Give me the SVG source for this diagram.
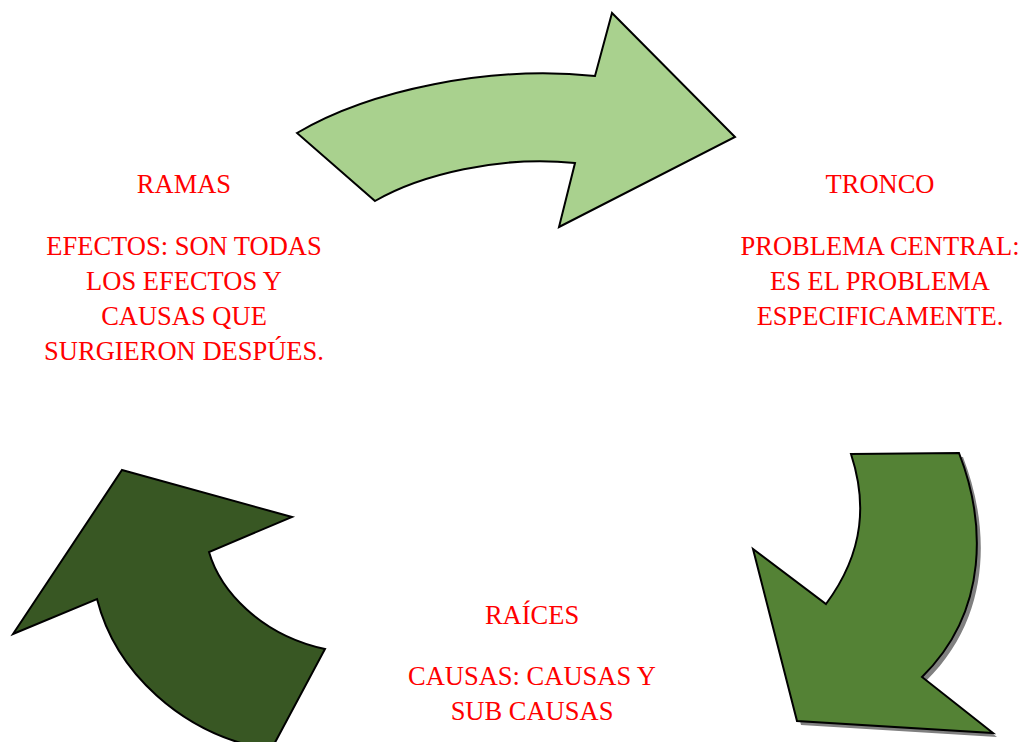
<svg xmlns="http://www.w3.org/2000/svg" width="1024" height="742" viewBox="0 0 1024 742">
<style>
.arrow{stroke:#000;stroke-width:2;stroke-linejoin:miter}
.lbl{font-family:"Liberation Serif","Times New Roman",serif;font-size:26.5px;fill:#FF0000;text-anchor:middle}
</style>
<rect width="1024" height="742" fill="#fff"/>
<g id="arrow-top">
<path class="arrow" fill="#A9D18E" d="M297,133 C370,90 490,65 595,76 L612,13 L735,137 L559,227 L575,163 C500,155 420,175 375,201 Z"/>
</g>
<g id="arrow-right">
<path fill="#808080" transform="translate(4,4)" d="M851,454 L959,453 C985,520 990,610 922,677 L993,733 L797,721 L753,549 L826,604 C866,550 866,500 851,454 Z"/>
<path class="arrow" fill="#548235" d="M851,454 L959,453 C985,520 990,610 922,677 L993,733 L797,721 L753,549 L826,604 C866,550 866,500 851,454 Z"/>
</g>
<g id="arrow-left">
<path class="arrow" fill="#385723" d="M122,470 L292,517 L209,552 C220,590 260,635 325,649 L271,750 C180,735 115,670 97,599 L13,634 Z"/>
</g>
<g id="label-ramas">
<text class="lbl" x="184" y="193">RAMAS</text>
<text class="lbl" x="184" y="255">EFECTOS: SON TODAS</text>
<text class="lbl" x="184" y="290">LOS EFECTOS Y</text>
<text class="lbl" x="184" y="325">CAUSAS QUE</text>
<text class="lbl" x="184" y="360">SURGIERON DESPÚES.</text>
</g>
<g id="label-tronco">
<text class="lbl" x="880" y="193">TRONCO</text>
<text class="lbl" x="880" y="255">PROBLEMA CENTRAL:</text>
<text class="lbl" x="880" y="290">ES EL PROBLEMA</text>
<text class="lbl" x="880" y="325">ESPECIFICAMENTE.</text>
</g>
<g id="label-raices">
<text class="lbl" x="532" y="624">RAÍCES</text>
<text class="lbl" x="532" y="685">CAUSAS: CAUSAS Y</text>
<text class="lbl" x="532" y="720">SUB CAUSAS</text>
</g>
<g id="connectors"></g>
</svg>
